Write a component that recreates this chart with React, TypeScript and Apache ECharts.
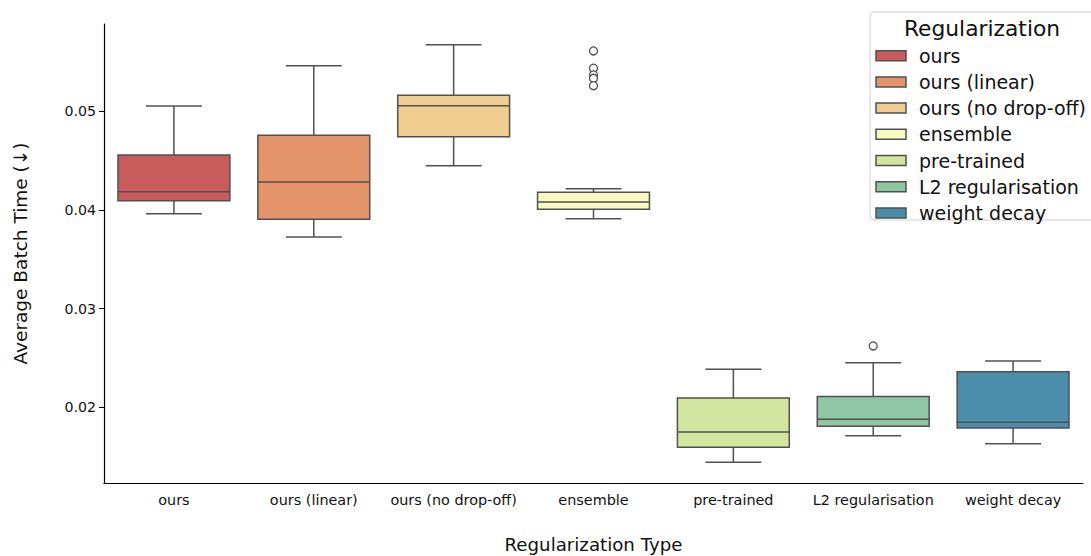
import React, { useEffect, useRef } from "react";
import * as echarts from "echarts";

const categories = [
  "ours",
  "ours (linear)",
  "ours (no drop-off)",
  "ensemble",
  "pre-trained",
  "L2 regularisation",
  "weight decay",
];
const lowWhisker = [0.03963, 0.03727, 0.04449, 0.03912, 0.01445, 0.01714, 0.01633];
const q1 = [0.04094, 0.03906, 0.04743, 0.04007, 0.01597, 0.0181, 0.01792];
const median = [0.04186, 0.04284, 0.05057, 0.04081, 0.01752, 0.0188, 0.0185];
const q3 = [0.04556, 0.04757, 0.05162, 0.0418, 0.02096, 0.0211, 0.02363];
const highWhisker = [0.05054, 0.05462, 0.05675, 0.04216, 0.02387, 0.02454, 0.02471];
const outlierCategory = [3, 3, 3, 3, 3, 5];
const outlierValue = [0.05611, 0.05436, 0.05368, 0.05334, 0.05259, 0.02623];
const yTicks = [0.02, 0.03, 0.04, 0.05];
const colors = ["#C95B5D", "#E5936A", "#EFCD8F", "#F8F8C1", "#D4E5A1", "#8FC6A4", "#4A8EAB"];
const legendTitle = "Regularization";

const LINE = "#505050";
const FONT = "DejaVu Sans";

export default function App() {
  const ref = useRef<HTMLDivElement>(null);
  useEffect(() => {
    if (!ref.current) return;
    const chart = echarts.init(ref.current, null, { renderer: "svg" });
    const boxData = categories.map((_, i) => [i, lowWhisker[i], q1[i], median[i], q3[i], highWhisker[i]]);
    const outData = outlierValue.map((v, i) => [outlierCategory[i], v]);

    const legendX = 870;
    const legendY = 12;
    const rowH = 26.2;
    const legendChildren: any[] = [
      {
        type: "rect",
        shape: { x: legendX, y: legendY, width: 240, height: 208, r: 4 },
        style: { fill: "rgba(255,255,255,0.8)", stroke: "#d0d0d0", lineWidth: 1 },
      },
      {
        type: "text",
        x: 982,
        y: 28,
        style: { text: legendTitle, font: `21.8px '${FONT}'`, fill: "#111", align: "center", verticalAlign: "middle" },
      },
    ];
    categories.forEach((c, i) => {
      const cy = 55.7 + i * rowH;
      legendChildren.push({
        type: "rect",
        shape: { x: 876, y: cy - 5, width: 30, height: 10 },
        style: { fill: colors[i], stroke: LINE, lineWidth: 1.5 },
      });
      legendChildren.push({
        type: "text",
        x: 919,
        y: cy,
        style: { text: c, font: `19px '${FONT}'`, fill: "#111", verticalAlign: "middle" },
      });
    });

    chart.setOption({
      animation: false,
      backgroundColor: "#fff",
      textStyle: { fontFamily: FONT },
      grid: { left: 104, right: 8, top: 24, bottom: 73, outerBoundsMode: "none", containLabel: false },
      xAxis: {
        type: "category",
        data: categories,
        boundaryGap: true,
        axisLine: { lineStyle: { color: "#000", width: 1.2 } },
        axisTick: { alignWithLabel: true, length: 5, lineStyle: { color: "#000" } },
        axisLabel: { color: "#111", fontSize: 14.4, fontFamily: FONT, margin: 10, interval: 0, hideOverlap: false },
        name: "Regularization Type",
        nameLocation: "middle",
        nameGap: 52,
        nameTextStyle: { fontSize: 18.2, color: "#111", fontFamily: FONT },
      },
      yAxis: {
        type: "value",
        min: 0.01235,
        max: 0.05884,
        splitLine: { show: false },
        axisLine: { show: true, lineStyle: { color: "#000", width: 1.2 } },
        axisTick: { show: true, length: 5, customValues: yTicks, lineStyle: { color: "#000" } },
        axisLabel: {
          customValues: yTicks,
          color: "#111",
          fontSize: 14.2,
          fontFamily: FONT,
          margin: 8,
          formatter: (v: number) => v.toFixed(2),
        },
        name: "Average Batch Time (↓)",
        nameLocation: "middle",
        nameGap: 74,
        nameRotate: 90,
        nameTextStyle: { fontSize: 18.5, color: "#111", fontFamily: FONT },
      },
      series: [
        {
          type: "custom",
          data: boxData,
          encode: { x: 0, y: [1, 2, 3, 4, 5] },
          renderItem: (params: any, api: any) => {
            const i = api.value(0);
            const bw = api.size([1, 0])[0];
            const boxW = bw * 0.8;
            const capW = boxW * 0.5;
            const pLow = api.coord([i, api.value(1)]);
            const pQ1 = api.coord([i, api.value(2)]);
            const pMed = api.coord([i, api.value(3)]);
            const pQ3 = api.coord([i, api.value(4)]);
            const pHigh = api.coord([i, api.value(5)]);
            const cx = pMed[0];
            const ls = { stroke: LINE, lineWidth: 1.5 };
            return {
              type: "group",
              children: [
                { type: "line", shape: { x1: cx, y1: pLow[1], x2: cx, y2: pQ1[1] }, style: ls },
                { type: "line", shape: { x1: cx, y1: pQ3[1], x2: cx, y2: pHigh[1] }, style: ls },
                { type: "line", shape: { x1: cx - capW / 2, y1: pLow[1], x2: cx + capW / 2, y2: pLow[1] }, style: ls },
                { type: "line", shape: { x1: cx - capW / 2, y1: pHigh[1], x2: cx + capW / 2, y2: pHigh[1] }, style: ls },
                {
                  type: "rect",
                  shape: { x: cx - boxW / 2, y: pQ3[1], width: boxW, height: pQ1[1] - pQ3[1] },
                  style: { fill: colors[params.dataIndex], stroke: LINE, lineWidth: 1.5 },
                },
                { type: "line", shape: { x1: cx - boxW / 2, y1: pMed[1], x2: cx + boxW / 2, y2: pMed[1] }, style: ls },
              ],
            };
          },
        },
        {
          type: "scatter",
          data: outData,
          symbol: "circle",
          symbolSize: 8,
          itemStyle: { color: "#ffffff", borderColor: LINE, borderWidth: 1.3, opacity: 1 },
          z: 5,
        },
      ],
      graphic: [{ type: "group", children: legendChildren, z: 100 }],
    });
    return () => chart.dispose();
  }, []);
  return <div ref={ref} style={{ width: 1091, height: 556, position: "absolute", left: 0, top: 0 }} />;
}
